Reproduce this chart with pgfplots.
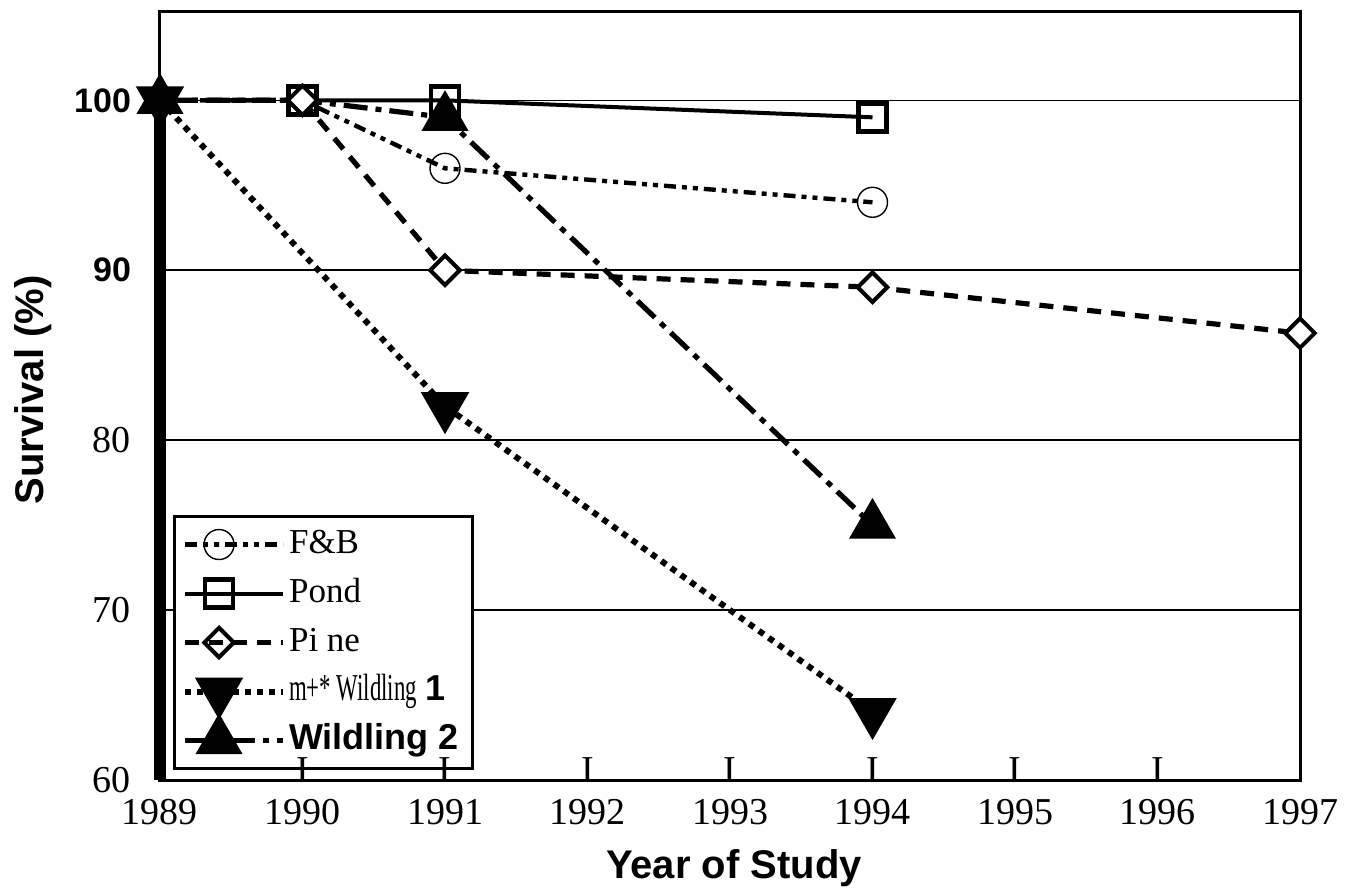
\documentclass[border=0pt]{standalone}
\usepackage{pgfplots}
\pgfplotsset{compat=1.18}
\usepackage{fontspec}
\setmainfont{Liberation Serif}
\setsansfont{Liberation Sans}
\newfontfamily\condserif[FakeStretch=0.6]{Liberation Serif}
\usetikzlibrary{plotmarks}

\begin{document}
\begin{tikzpicture}
\begin{axis}[
  scale only axis, width=570pt, height=384pt,
  xmin=1989, xmax=1997, ymin=60, ymax=105.2,
  clip=false,
  xtick={1989,1990,1991,1992,1993,1994,1995,1996,1997},
  xticklabels={1989,1990,1991,1992,1993,1994,1995,1996,1997},
  ytick={60,70,80,90,100},
  yticklabels={60,70,80,{\fontsize{17}{19}\selectfont\sffamily\bfseries 90},{\fontsize{17}{19}\selectfont\sffamily\bfseries 100}},
  major tick length=0pt,
  ticklabel style={font=\fontsize{19}{22}\selectfont},
  xticklabel style={yshift=-6pt},
  yticklabel style={xshift=-11pt},
  ymajorgrids,
  grid style={line width=0.8pt, black},
  axis line style={line width=1.5pt},
  xlabel={Year of Study}, ylabel={Survival (\%)},
  label style={font=\fontsize{20}{24}\selectfont\sffamily\bfseries},
  xlabel style={at={(axis description cs:0.5035,-0.1276)}, anchor=base},
  ylabel style={at={(axis description cs:-0.111,0.508)}, anchor=center},
  legend style={at={(0.011,0.013)}, anchor=south west, draw=black, fill=white,
    line width=1.5pt, inner xsep=4pt, inner ysep=3pt, row sep=2.5pt,
    nodes={inner sep=1.5pt, text height=14pt, text depth=5pt},
    font=\fontsize{17.5}{20}\selectfont},
  legend cell align=left,
  legend image code/.code={
    \draw[#1, mark indices={2}] plot coordinates {(0pt,0pt) (17pt,0pt) (41pt,0pt)};
    \path (0pt,0pt) -- (49pt,0pt);
  },
]
% F&B
\addplot[line width=2.2pt, dash pattern=on 6pt off 3pt on 2.5pt off 3pt on 2.5pt off 3pt,
  mark=o, mark size=7.5pt, mark options={solid, line width=0.7pt}, mark indices={3,4}]
  coordinates {(1989,100) (1990,100) (1991,96) (1994,94)};
\addlegendentry{\makebox[86pt][l]{F\&B}}
% Pond
\addplot[line width=2pt, mark=square, mark size=7pt, mark options={solid, line width=2.2pt}]
  coordinates {(1990,100) (1991,100) (1994,99)};
\addlegendentry{\makebox[86pt][l]{Pond}}
% Pine
\addplot[line width=2.6pt, dash pattern=on 7pt off 5pt,
  mark=square*, mark size=5.2pt, mark options={solid, rotate=45, fill=white, line width=2pt},
  mark indices={2,3,4,5}]
  coordinates {(1989,100) (1990,100) (1991,90) (1994,89) (1997,86.3)};
\addlegendentry{\makebox[86pt][l]{Pi ne}}
% Wildling 1
\addplot[line width=3pt, dash pattern=on 3pt off 3pt,
  mark=triangle*, mark size=11pt, mark options={solid, rotate=180}]
  coordinates {(1989,100) (1991,82) (1994,64)};
\addlegendentry{\makebox[86pt][l]{{\condserif\fontsize{19}{20}\selectfont m+* Wildling} {\sffamily\bfseries\fontsize{18}{20}\selectfont 1}}}
% Wildling 2
\addplot[line width=2.6pt, dash pattern=on 12pt off 4pt on 3pt off 4pt,
  mark=triangle*, mark size=11pt, mark options={solid}, mark indices={1,3,4}]
  coordinates {(1989,100) (1990,100) (1991,99) (1994,75)};
\addlegendentry{\makebox[86pt][l]{\sffamily\bfseries\fontsize{18}{20}\selectfont Wildling 2}}

\draw[line width=6pt] (axis cs:1989,100) -- (axis cs:1989,60);
\coordinate (t1) at (axis cs:1990,59.85);
\coordinate (t2) at (axis cs:1991,59.85);
\coordinate (t3) at (axis cs:1992,59.85);
\coordinate (t4) at (axis cs:1993,59.85);
\coordinate (t5) at (axis cs:1994,59.85);
\coordinate (t6) at (axis cs:1995,59.85);
\coordinate (t7) at (axis cs:1996,59.85);
\end{axis}
\foreach \t in {t1,t2,t3,t4,t5,t6,t7}{
  \node[anchor=base, inner sep=0pt, font=\fontsize{19}{22}\selectfont] at (\t) {I};
}
\pgfresetboundingbox
\path (current axis.south west)+(-80pt,-55pt) rectangle ([shift={(24.5pt,6pt)}]current axis.north east);
\end{tikzpicture}
\end{document}
